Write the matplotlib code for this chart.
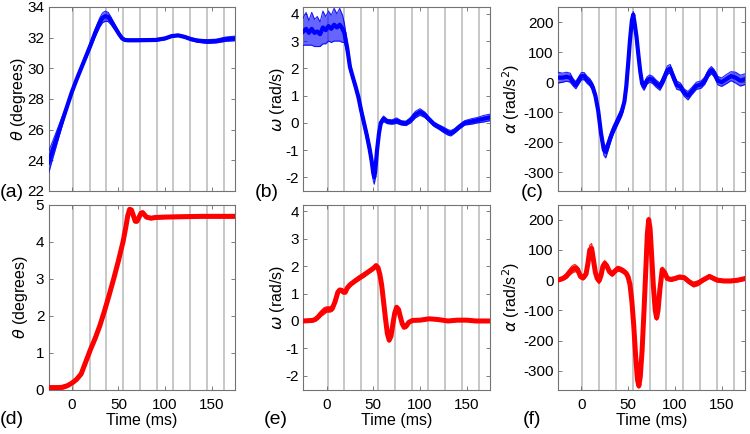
import numpy as np
import matplotlib
matplotlib.use("Agg")
import matplotlib.pyplot as plt

plt.rcParams['font.family'] = ['Liberation Sans', 'DejaVu Sans']
plt.rcParams['mathtext.fontset'] = 'dejavusans'
plt.rcParams['axes.unicode_minus'] = False

# ========== data ==========
# vertical reference lines (ms)
grid_times = [1, 19, 37, 55, 73, 91, 109, 127, 145, 163]

# (a) theta, blue
t_a = [-25, -20, -15, -10, -5, 0, 5, 10, 15, 20, 25, 30, 33, 36, 39, 42, 45, 48,
       51, 54, 57, 60, 70, 80, 90, 100, 107, 114, 121, 128, 135, 145, 155, 165, 175]
mid_a = [23.85, 24.77, 25.69, 26.61, 27.53, 28.45, 29.25, 30.0, 30.75, 31.5, 32.3,
         33.0, 33.3, 33.4, 33.35, 33.1, 32.8, 32.5, 32.2, 31.95, 31.85, 31.83, 31.83,
         31.84, 31.85, 31.95, 32.1, 32.15, 32.05, 31.9, 31.8, 31.75, 31.78, 31.9, 31.95]
hw_a = [0.7, 0.56, 0.42, 0.28, 0.14, 0.06, 0.08, 0.12, 0.17, 0.2, 0.25, 0.3, 0.32,
        0.33, 0.3, 0.25, 0.2, 0.15, 0.12, 0.1, 0.08, 0.08, 0.08, 0.08, 0.08, 0.08,
        0.07, 0.07, 0.08, 0.09, 0.1, 0.12, 0.12, 0.14, 0.15]

# (b) omega, blue
t_b = [-25, -22, -19, -16, -13, -10, -7, -4, -1, 2, 5, 8, 11, 14, 17, 19, 22, 25,
       28, 31, 34, 37, 40, 43, 46, 48, 50, 51, 52, 54, 56, 58, 61, 65, 70, 75, 80,
       85, 90, 95, 100, 105, 110, 115, 120, 125, 130, 133, 137, 142, 148, 155, 162,
       168, 175]
mid_b = [3.35, 3.45, 3.3, 3.45, 3.3, 3.35, 3.25, 3.5, 3.4, 3.55, 3.45, 3.6, 3.5,
         3.6, 3.45, 3.3, 2.75, 2.05, 1.68, 1.33, 0.95, 0.45, 0.0, -0.45, -0.95,
         -1.35, -1.85, -2.0, -1.8, -1.0, -0.4, 0.0, 0.15, 0.05, 0.03, 0.08, 0.0,
         -0.02, 0.1, 0.3, 0.4, 0.3, 0.12, -0.05, -0.15, -0.25, -0.35, -0.38, -0.3,
         -0.15, 0.0, 0.05, 0.1, 0.15, 0.2]
hw_b = [0.5, 0.6, 0.45, 0.6, 0.5, 0.55, 0.45, 0.6, 0.5, 0.55, 0.5, 0.6, 0.5, 0.6,
        0.5, 0.35, 0.2, 0.15, 0.12, 0.12, 0.12, 0.15, 0.15, 0.18, 0.2, 0.22, 0.28,
        0.25, 0.25, 0.2, 0.15, 0.1, 0.1, 0.08, 0.08, 0.1, 0.08, 0.08, 0.1, 0.12,
        0.12, 0.1, 0.08, 0.08, 0.08, 0.1, 0.1, 0.1, 0.08, 0.08, 0.08, 0.1, 0.1,
        0.12, 0.12]

# (c) alpha, blue
t_c = [-25, -20, -16, -12, -9, -6, -3, 0, 3, 6, 9, 12, 15, 18, 21, 24, 26, 28, 31,
       34, 37, 40, 43, 46, 48, 50, 52, 54, 55.5, 57, 59, 61, 63, 65, 67, 70, 73, 76,
       80, 84, 88, 92, 95, 98, 102, 106, 110, 114, 118, 123, 128, 132, 136, 139,
       142, 146, 150, 155, 160, 165, 170, 175]
mid_c = [15, 15, 18, 15, 0, -10, 5, 20, 20, 8, 0, -15, -45, -95, -170, -225, -232,
         -215, -185, -160, -140, -120, -100, -65, -15, 60, 140, 205, 225, 195, 150,
         90, 35, -5, -15, 5, 12, 8, -5, -15, 10, 40, 45, 20, -10, -15, -35, -45, -30,
         -12, -8, 5, 30, 40, 30, 5, 0, 10, 20, 15, 5, 10]
hw_c = [18, 15, 15, 15, 12, 12, 12, 12, 12, 12, 12, 12, 14, 15, 16, 18, 20, 18, 15,
        14, 14, 14, 14, 14, 14, 14, 12, 10, 10, 10, 12, 12, 12, 12, 12, 12, 12, 12,
        12, 12, 14, 14, 14, 14, 14, 12, 12, 14, 12, 12, 12, 12, 12, 12, 12, 14, 14,
        15, 15, 18, 18, 18]

# (d) theta, red
t_d = [-25, -15, -10, -5, 0, 5, 10, 15, 20, 25, 30, 35, 40, 45, 50, 55, 58, 60, 62,
       64, 66, 68, 70, 72, 74, 76, 78, 80, 85, 90, 100, 120, 140, 160, 175]
mid_d = [0.05, 0.05, 0.06, 0.1, 0.17, 0.27, 0.42, 0.75, 1.08, 1.38, 1.72, 2.12,
         2.55, 3.0, 3.48, 4.0, 4.4, 4.7, 4.87, 4.85, 4.7, 4.55, 4.55, 4.65, 4.76,
         4.78, 4.72, 4.66, 4.63, 4.65, 4.66, 4.67, 4.68, 4.68, 4.68]
hw_d = [0.05, 0.05, 0.05, 0.04, 0.03, 0.03, 0.04, 0.04, 0.04, 0.04, 0.04, 0.04,
        0.04, 0.04, 0.04, 0.05, 0.05, 0.05, 0.05, 0.05, 0.05, 0.05, 0.05, 0.05,
        0.05, 0.05, 0.04, 0.04, 0.04, 0.04, 0.04, 0.04, 0.04, 0.04, 0.04]

# (e) omega, red
t_e = [-25, -15, -12, -9, -6, -3, 0, 3, 6, 9, 12, 14, 16, 18, 20, 22, 25, 30, 35,
       40, 45, 50, 53, 55, 57, 59, 61, 63, 65, 67, 69, 71, 73, 75, 77, 79, 81, 83,
       85, 88, 92, 100, 110, 120, 130, 140, 150, 160, 175]
mid_e = [0.0, 0.02, 0.06, 0.15, 0.27, 0.36, 0.42, 0.42, 0.45, 0.7, 1.05, 1.13,
         1.12, 1.05, 1.05, 1.2, 1.32, 1.45, 1.57, 1.68, 1.8, 1.92, 2.02, 1.95, 1.7,
         1.3, 0.7, 0.1, -0.45, -0.7, -0.55, -0.1, 0.3, 0.5, 0.42, 0.15, -0.1,
         -0.23, -0.2, -0.05, 0.02, 0.03, 0.08, 0.05, 0.0, 0.03, 0.03, 0.0, 0.0]
hw_e = [0.03, 0.04, 0.06, 0.08, 0.1, 0.12, 0.1, 0.1, 0.1, 0.08, 0.06, 0.06, 0.06,
        0.06, 0.06, 0.06, 0.06, 0.07, 0.08, 0.08, 0.07, 0.07, 0.06, 0.06, 0.06,
        0.06, 0.06, 0.06, 0.06, 0.07, 0.06, 0.06, 0.06, 0.06, 0.06, 0.06, 0.05,
        0.05, 0.05, 0.04, 0.04, 0.04, 0.04, 0.04, 0.04, 0.04, 0.04, 0.04, 0.04]

# (f) alpha, red
t_f = [-25, -20, -16, -13, -10, -7, -4, -1, 2, 5, 7, 9, 11, 13, 15, 17, 19, 21, 23,
       25, 27, 30, 33, 36, 39, 42, 45, 48, 50, 52, 54, 56, 58, 60, 61.5, 63, 65,
       67, 69, 70.5, 72, 73.5, 75, 77, 79, 80.5, 82, 84, 86.5, 89, 92, 96, 100,
       105, 110, 115, 120, 125, 130, 137, 145, 152, 160, 168, 175]
mid_f = [0, 5, 13, 25, 35, 40, 35, 12, 8, 20, 55, 100, 105, 65, 25, 5, -2, 15, 45,
         55, 48, 28, 20, 30, 38, 35, 30, 22, 10, -15, -70, -150, -250, -330, -350,
         -320, -230, -100, 40, 150, 200, 170, 90, -20, -100, -125, -100, -30, 35,
         25, 5, 2, 5, 10, 8, -5, -15, -10, 0, 12, 0, -3, -3, 0, 5]
hw_f = [5, 6, 8, 10, 12, 12, 10, 8, 8, 10, 14, 16, 16, 12, 10, 10, 10, 10, 10,
        10, 8, 8, 8, 8, 8, 8, 8, 8, 8, 8, 8, 8, 8, 8, 8, 8, 8, 8, 8, 8, 8, 8, 8,
        8, 8, 8, 8, 8, 8, 8, 6, 6, 6, 6, 6, 6, 8, 8, 6, 6, 6, 5, 5, 5, 5]

BLUE = (0, 0, 1)
RED = (1, 0, 0)
W, H = 750, 434


def px_box(l, t, r, b):
    return [l / W, 1 - b / H, (r - l) / W, (b - t) / H]


# (data, color, ylim, yticks, ylabel, letter, box, ylabel x, letter xy)
panels = [
    (t_a, mid_a, hw_a, BLUE, (22, 34), range(22, 35, 2), r'$\theta$ (degrees)', '(a)',
     px_box(48.5, 7, 235, 191), -0.11, (12, 192)),
    (t_b, mid_b, hw_b, BLUE, (-2.5, 4.25), range(-2, 5), r'$\omega$ (rad/s)', '(b)',
     px_box(303.3, 7, 490, 191), -0.085, (267, 192)),
    (t_c, mid_c, hw_c, BLUE, (-362, 250), range(-300, 201, 100), r'$\alpha$ (rad/s$^2$)', '(c)',
     px_box(558, 7, 745, 191), -0.19, (532, 192)),
    (t_d, mid_d, hw_d, RED, (0, 5), range(0, 6), r'$\theta$ (degrees)', '(d)',
     px_box(48.5, 204.5, 235, 389.5), -0.10, (12, 420)),
    (t_e, mid_e, hw_e, RED, (-2.5, 4.25), range(-2, 5), r'$\omega$ (rad/s)', '(e)',
     px_box(303.3, 204.5, 490, 389.5), -0.085, (276, 420)),
    (t_f, mid_f, hw_f, RED, (-362, 250), range(-300, 201, 100), r'$\alpha$ (rad/s$^2$)', '(f)',
     px_box(558, 204.5, 745, 389.5), -0.19, (532, 420)),
]

fig = plt.figure(figsize=(7.5, 4.34), dpi=100)

for i, (t, mid, hw, col, ylim, yticks, ylab, letter, box, ylx, lxy) in enumerate(panels):
    ax = fig.add_axes(box)
    t = np.array(t)
    mid = np.array(mid, dtype=float)
    hw = np.array(hw, dtype=float)
    lo, hi = mid - hw, mid + hw

    for g in grid_times:
        ax.axvline(g, color='0.72', lw=1.1, zorder=0)

    # spread of the trials, then the dense core
    ax.fill_between(t, lo, hi, color=col, alpha=0.6 if col == BLUE else 0.5,
                    lw=0, zorder=2)
    ax.plot(t, lo, color=col, lw=0.8, alpha=0.85, zorder=3)
    ax.plot(t, hi, color=col, lw=0.8, alpha=0.85, zorder=3)
    ax.plot(t, mid, color=col, lw=3.0 if col == BLUE else 3.6, zorder=4,
            solid_joinstyle='round')

    ax.set_xlim(-25, 175)
    ax.set_ylim(*ylim)
    ax.set_xticks([0, 50, 100, 150])
    ax.set_yticks(list(yticks))
    ax.tick_params(direction='in', top=True, right=True, length=3, width=0.6,
                   color='0.4', labelsize=11, pad=3, labelcolor='black')
    for sp in ax.spines.values():
        sp.set_color('0.45')
        sp.set_linewidth(0.8)

    ax.set_ylabel(ylab, fontsize=11.5)
    ax.yaxis.set_label_coords(ylx, 0.5)

    if i < 3:
        ax.tick_params(labelbottom=False)
    else:
        ax.set_xlabel('Time (ms)', fontsize=11.5, va='top')
        ax.xaxis.set_label_coords(0.5, -0.125)
        ax.tick_params(axis='x', pad=6)

    fig.text(lxy[0] / W, 1 - lxy[1] / H, letter, fontsize=14, ha='center', va='center')

fig.savefig('out.png', dpi=100)
